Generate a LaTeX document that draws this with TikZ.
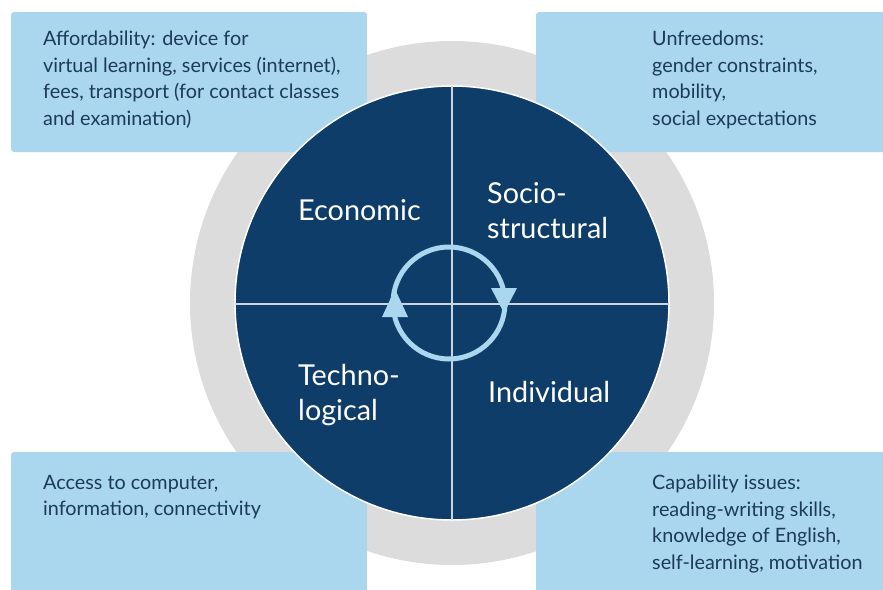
\documentclass[tikz,border=0pt]{standalone}
\usepackage{fontspec}
\setmainfont{Lato}
\definecolor{navy}{RGB}{14,61,106}
\definecolor{boxblue}{RGB}{170,214,238}
\definecolor{boxtext}{RGB}{28,58,90}
\definecolor{ringgrey}{RGB}{220,220,220}
\definecolor{crossline}{RGB}{205,212,222}
\tikzset{
  infobox/.style={fill=boxblue, draw=none, rounded corners=3pt},
  infotext/.style={anchor=north west, align=left, inner sep=0pt, text=boxtext,
    font=\fontsize{19.8}{26.5}\selectfont},
  biglabel/.style={anchor=base west, align=left, inner sep=0pt, text=white,
    font=\fontsize{28.8}{34}\selectfont},
}
\begin{document}
\begin{tikzpicture}[x=1pt,y=-1pt]
\useasboundingbox (0,0) rectangle (883,589);
% grey ring
\fill[ringgrey] (452,303) circle (262);
% boxes
\fill[infobox] (11,12) rectangle (367,152);
\fill[infobox] (536,12) rectangle (895,152);
\fill[infobox] (11,452) rectangle (367,600);
\fill[infobox] (536,452) rectangle (895,600);
% main circle
\fill[navy, draw=white, line width=1.5pt] (452,303) circle (217);
\coordinate (c) at (452,303);
\draw[crossline, line width=1.6pt] (452,86) -- (452,520);
\draw[crossline, line width=1.6pt] (235,304) -- (669,304);
% cycle
\draw[boxblue, line width=5pt] (449,303) circle (56);
\fill[boxblue] (395,289) -- (408,317) -- (382,317) -- cycle;
\fill[boxblue] (491,288) -- (517,288) -- (504,313) -- cycle;
% labels
\node[biglabel] (eco) at (298,220) {Economic};
\node[biglabel] (soc1) at (487,203) {Socio-};
\node[biglabel] (soc2) at (487,238) {structural};
\node[biglabel] (tec1) at (298,385) {Techno-};
\node[biglabel] (tec2) at (298,420) {logical};
\node[biglabel] (ind) at (488,402) {Individual};
% box texts
\node[infotext] (t1) at (43,31) {Affordability: device for\\virtual learning, services (internet),\\fees, transport (for contact classes\\and examination)};
\node[infotext] (t2) at (652,31) {Unfreedoms:\\gender constraints,\\mobility,\\social expectations};
\node[infotext] (t3) at (43,475) {Access to computer,\\information, connectivity};
\node[infotext] (t4) at (652,475) {Capability issues:\\reading-writing skills,\\knowledge of English,\\self-learning, motivation};
\end{tikzpicture}
\end{document}
